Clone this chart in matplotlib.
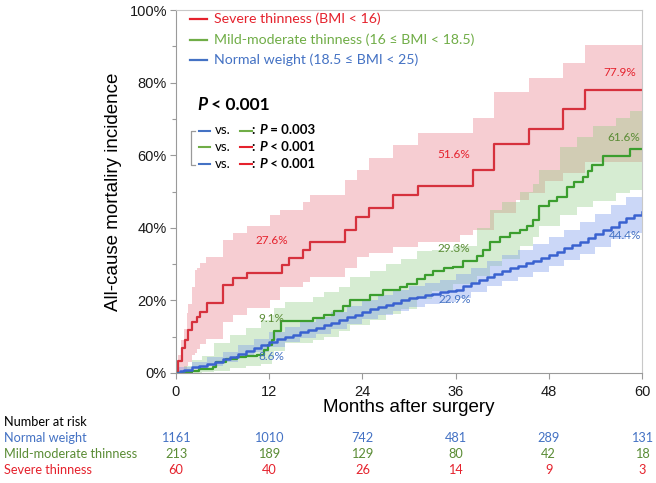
import matplotlib
matplotlib.use("Agg")
import matplotlib.pyplot as plt
import matplotlib.transforms as mtransforms
from matplotlib.lines import Line2D

# --- data (months, cumulative incidence %) ---
red_t = [0, 0.3, 0.73, 1.16, 1.58, 2.02, 2.66, 3.09, 3.95, 6.09, 7.38, 9.1, 13.6, 14.5,
         16.4, 17.2, 21.7, 23.2, 24.9, 28.0, 31.2, 38.2, 41.0, 45.5, 49.8, 52.6, 60]
red_v = [0, 3.4, 6.8, 9.1, 11.8, 14.1, 15.5, 16.9, 19.2, 24.2, 26.1, 27.6, 29.8, 31.6,
         33.9, 36.2, 39.4, 43.1, 45.4, 49.0, 51.6, 55.9, 63.1, 67.2, 72.7, 77.9, 77.9]

red_band_t = [0, 0.3, 0.7, 1.0, 1.4, 1.6, 2.0, 2.4, 2.7, 3.1, 3.9, 6.1, 7.4, 9.1, 12.1, 13.4,
              16.4, 17.2, 21.8, 23.3, 24.9, 28.0, 31.2, 36.6, 38.2, 41.0, 43.8, 45.5, 47.5,
              49.8, 52.6, 60]
red_lo = [0, 0, 0.5, 1.2, 2, 3, 5, 5.5, 6.5, 8, 9.5, 14, 16, 18, 20, 23.8, 25, 26.5, 29, 32,
          33, 34.8, 36, 38, 39.5, 44, 47.7, 49.5, 53, 55, 58, 58]
red_hi = [0, 5, 9, 12, 16.4, 19, 23.8, 28.4, 29, 30.2, 32, 36.6, 38.5, 40.5, 43.5, 45, 47.2,
          49.0, 53.2, 55.9, 59.1, 62.8, 66.0, 66.0, 70.2, 77.5, 77.5, 81.2, 81.2, 85.3, 90.4, 90.4]

green_t = [0, 1, 2, 3, 4, 4.8, 5.2, 6.5, 7.8, 9, 10.4, 11.3, 11.9, 12.3, 12.6, 13.5, 17.7,
           19.0, 20.3, 21.5, 22.4, 25.0, 26.7, 28.8, 29.7, 31.0, 32.0, 33.1, 34.5, 35.7, 37.0,
           38.7, 39.5, 40.4, 41.7, 43.0, 44.3, 45.2, 46.0, 46.8, 48.0, 49.0, 50.3, 51.3, 52.4,
           53.0, 53.5, 55.0, 58.4, 60]
green_v = [0, 0.3, 0.6, 1.0, 1.2, 1.7, 3.0, 3.8, 4.5, 4.8, 5.0, 6.3, 7.6, 9.1, 11.5, 14.2,
           15.1, 16.0, 17.0, 18.5, 20.1, 21.4, 22.8, 23.8, 24.6, 26.0, 26.9, 28.2, 28.8, 29.3,
           30.8, 32.3, 34.0, 36.2, 37.5, 38.5, 39.4, 40.6, 42.1, 46.0, 47.5, 48.6, 51.2, 52.5,
           54.1, 55.6, 57.3, 59.8, 61.6, 61.6]

green_band_t = [0, 1, 2, 3.3, 4.9, 7, 9, 11, 12.3, 12.6, 14, 17.7, 19, 21, 22.4, 25, 27, 29,
                31, 33, 35.7, 38.7, 40.4, 42, 44.3, 46, 46.8, 49.4, 51.6, 53.7, 56.7, 58.4, 60]
green_lo = [0, 0, 0.1, 0.3, 0.6, 1.3, 2.0, 2.6, 4.0, 6.0, 8.2, 9.0, 10.0, 11.5, 13.2, 14.6,
            16.3, 17.5, 20.5, 22.5, 24.5, 26.8, 29.5, 31.5, 35.0, 37.5, 40.5, 43.5, 45.8, 47.5,
            49.5, 50.5, 50.5]
green_hi = [0.3, 2.0, 3.5, 4.8, 8.3, 10.5, 12.5, 14.5, 16.0, 17.8, 19.5, 21.0, 22.2, 23.8,
            26.5, 28.2, 30.0, 31.5, 33.5, 34.0, 35.0, 40.0, 45.0, 47.0, 50.0, 52.0, 56.0, 62.3,
            65.0, 68.0, 70.2, 72.3, 72.3]

blue_t = [0, 0.5, 1, 2, 3, 4, 5, 6, 7, 8, 9, 10, 11, 12, 13, 14, 15, 16, 17, 18, 19, 20, 21,
          22, 23, 24, 25, 26, 27, 28, 29, 30, 31, 32, 33, 34, 35, 36, 37, 38, 39, 40, 41, 42,
          43, 44, 45, 46, 47, 48, 49, 50, 51, 52, 53, 54, 55, 56, 57, 58, 59, 60]
blue_v = [0, 0.5, 0.9, 1.6, 2.0, 2.5, 3.1, 3.8, 4.5, 5.2, 6.0, 6.8, 7.7, 8.6, 9.3, 10.0, 10.6,
          11.3, 11.9, 12.5, 13.1, 13.8, 14.5, 15.3, 16.0, 16.8, 17.5, 18.2, 18.8, 19.4, 20.0,
          20.6, 21.0, 21.4, 21.9, 22.3, 22.6, 22.9, 23.9, 24.8, 25.6, 26.4, 27.4, 28.2, 28.9,
          29.6, 30.2, 30.9, 31.7, 32.6, 33.4, 34.4, 35.3, 36.2, 37.2, 38.2, 39.3, 40.3, 41.6,
          42.6, 43.6, 44.4]

blue_band_t = [0, 2, 4, 6, 8, 10, 12, 14, 16, 18, 20, 22, 24, 26, 28, 30, 32, 34, 36, 38, 40,
               42, 44, 46, 48, 50, 52, 54, 56, 58, 60]
blue_lo = [0.2, 1.0, 1.9, 3.1, 4.4, 5.9, 7.3, 8.5, 9.7, 10.8, 12.1, 13.5, 14.9, 16.1, 17.2,
           18.1, 18.9, 19.5, 20.6, 22.2, 23.9, 25.3, 26.5, 27.9, 29.4, 31.1, 32.8, 34.7, 36.8,
           38.6, 38.6]
blue_hi = [1.6, 3.0, 4.3, 5.9, 7.6, 9.5, 11.3, 12.7, 14.1, 15.4, 16.9, 18.5, 20.1, 21.5, 22.8,
           23.9, 24.9, 25.7, 27.2, 29.0, 30.9, 32.5, 33.9, 35.5, 37.4, 39.5, 41.6, 43.9, 46.4,
           48.6, 48.6]

# labelled estimates: (month, y-position %, text)
red_labels = [(12.3, 36.4, "27.6%"), (35.7, 60.1, "51.6%"), (57.1, 82.7, "77.9%")]
green_labels = [(12.3, 15.1, "9.1%"), (35.8, 34.3, "29.3%"), (57.6, 64.9, "61.6%")]
blue_labels = [(12.3, 4.5, "8.6%"), (35.9, 20.3, "22.9%"), (57.8, 37.8, "44.4%")]

risk_months = [0, 12, 24, 36, 48, 60]
risk_normal = [1161, 1010, 742, 481, 289, 131]
risk_mild = [213, 189, 129, 80, 42, 18]
risk_severe = [60, 40, 26, 14, 9, 3]

# --- colours / fonts ---
RED_LINE, GREEN_LINE, BLUE_LINE = "#d6313d", "#3b9e2e", "#3a62d0"
RED_TXT, GREEN_TXT, BLUE_TXT = "#e5222d", "#70ad47", "#4472c4"
GREEN_DARK = "#5a8c35"
CAL = ["Lato", "DejaVu Sans"]
HEL = ["Liberation Sans", "DejaVu Sans"]

W, H = 656, 483
fig = plt.figure(figsize=(W / 100, H / 100), dpi=100)
ax = fig.add_axes([176 / W, 1 - 373 / H, 466 / W, 363 / H])
# pixel coordinates measured from the top-left corner of the figure
PX = mtransforms.Affine2D().scale(1 / W, -1 / H).translate(0, 1) + fig.transFigure

ax.fill_between(red_band_t, red_lo, red_hi, step="post", color="#e8707f", alpha=0.35, lw=0)
ax.fill_between(green_band_t, green_lo, green_hi, step="post", color="#8ccb7e", alpha=0.35, lw=0)
ax.fill_between(blue_band_t, blue_lo, blue_hi, step="post", color="#7f9ceb", alpha=0.4, lw=0)

ax.step(red_t, red_v, where="post", color=RED_LINE, lw=1.6)
ax.step(green_t, green_v, where="post", color=GREEN_LINE, lw=1.6)
ax.step(blue_t, blue_v, where="post", color=BLUE_LINE, lw=1.8)

for labels, col in [(red_labels, RED_TXT), (green_labels, GREEN_DARK), (blue_labels, BLUE_TXT)]:
    for x, y, s in labels:
        ax.text(x, y, s, color=col, fontsize=8.5, family=CAL, ha="center", va="center")

ax.set_xlim(0, 60)
ax.set_ylim(0, 100)
ax.set_xticks(risk_months)
ax.set_yticks(range(0, 101, 20))
ax.set_yticks(range(10, 100, 20), minor=True)
ax.set_yticklabels([f"{v}%" for v in range(0, 101, 20)])
for lab in ax.get_xticklabels() + ax.get_yticklabels():
    lab.set_family(HEL)
    lab.set_fontsize(10.5)
    lab.set_color("#1a1a1a")
ax.tick_params(axis="both", which="both", direction="out", color="#9a9a9a", width=0.8)
ax.tick_params(axis="x", length=4, pad=4.5)
ax.tick_params(axis="y", which="major", length=4, pad=2.5)
ax.tick_params(axis="y", which="minor", length=3)
for side in ["left", "bottom"]:
    ax.spines[side].set_color("#9a9a9a")
for side in ["top", "right"]:
    ax.spines[side].set_color("#c8c8c8")

ax.set_xlabel("Months after surgery", fontsize=13.5, family=HEL, va="center")
ax.xaxis.set_label_coords(0.5, (373 - 408) / 363)
ax.set_ylabel("All-cause mortaliry incidence", fontsize=13.5, family=HEL, va="center")
ax.yaxis.set_label_coords((113 - 176) / 466, 0.5)

# --- legend (drawn by hand, as in the figure) ---
legend_rows = [("Severe thinness (BMI < 16)", RED_TXT, 18.5),
               ("Mild-moderate thinness (16 \u2264 BMI < 18.5)", GREEN_TXT, 39.5),
               ("Normal weight (18.5 \u2264 BMI < 25)", BLUE_TXT, 59.5)]
for text, col, y in legend_rows:
    fig.add_artist(Line2D([190, 207], [y, y], color=col, lw=1.6, transform=PX))
    fig.text(214, y, text, color=col, fontsize=10.2, family=CAL, va="center", transform=PX)

p1 = fig.text(197, 105, "P", fontsize=12.5, weight="bold", style="italic", family=CAL,
              va="center", transform=PX)
ax.annotate(" < 0.001", xy=(1, 0.5), xycoords=p1, va="center", fontsize=12.5,
            weight="bold", family=CAL)

comparisons = [(BLUE_TXT, GREEN_TXT, "= 0.003", 130.5),
               (GREEN_TXT, RED_TXT, "< 0.001", 147.3),
               (BLUE_TXT, RED_TXT, "< 0.001", 164)]
for c1, c2, pval, y in comparisons:
    fig.add_artist(Line2D([199, 210], [y, y], color=c1, lw=1.5, transform=PX))
    fig.text(215, y, "vs.", fontsize=9.5, family=CAL, va="center", transform=PX)
    fig.add_artist(Line2D([240, 252], [y, y], color=c2, lw=1.5, transform=PX))
    t = fig.text(252.5, y, ": ", fontsize=9.5, weight="bold", family=CAL, va="center",
                 transform=PX)
    t2 = ax.annotate("P", xy=(1, 0.5), xycoords=t, va="center", fontsize=9.5,
                     weight="bold", style="italic", family=CAL)
    ax.annotate(" " + pval, xy=(1, 0.5), xycoords=t2, va="center", fontsize=9.5,
                weight="bold", family=CAL)
fig.add_artist(Line2D([195, 191, 191, 195], [131, 131, 165, 165], color="#9a9a9a", lw=0.9,
                      transform=PX))

# --- number at risk table ---
fig.text(4, 421.7, "Number at risk", fontsize=9.2, family=CAL, va="center", transform=PX)
table_rows = [("Normal weight", risk_normal, BLUE_TXT, 438),
              ("Mild-moderate thinness", risk_mild, GREEN_DARK, 454.3),
              ("Severe thinness", risk_severe, "#e5222d", 470.5)]
mix = mtransforms.blended_transform_factory(ax.transData, PX)
for name, counts, col, y in table_rows:
    fig.text(4, y, name, fontsize=9.2, family=CAL, color=col, va="center", transform=PX)
    for m, n in zip(risk_months, counts):
        ax.text(m, y, str(n), fontsize=9.2, family=CAL, color=col, ha="center", va="center",
                transform=mix, clip_on=False)

fig.savefig("out.png", dpi=100)
